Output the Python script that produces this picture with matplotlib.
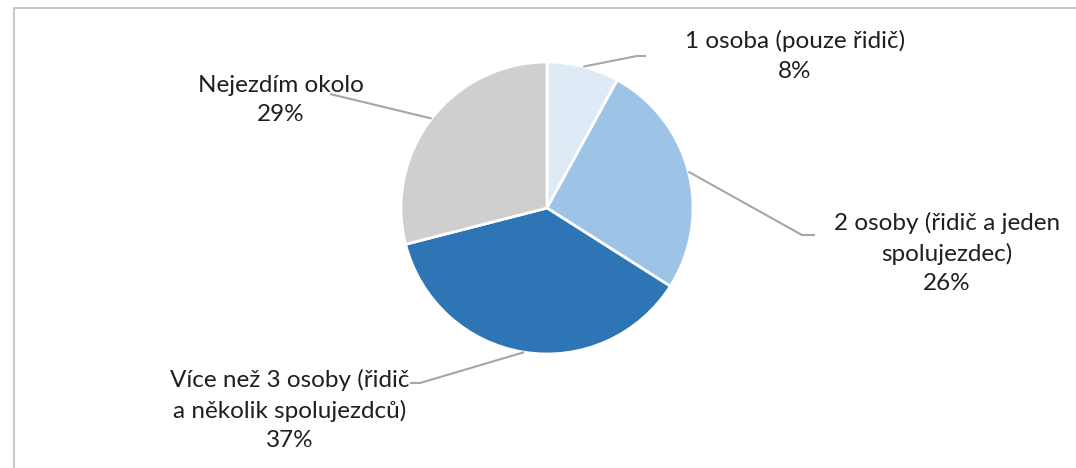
import numpy as np
import matplotlib
matplotlib.use("Agg")
import matplotlib.pyplot as plt
from matplotlib.patches import Rectangle

plt.rcParams['font.family'] = ['Lato', 'DejaVu Sans']

categories = [
    "1 osoba (pouze řidič)",
    "2 osoby (řidič a jeden\nspolujezdec)",
    "Více než 3 osoby (řidič\na několik spolujezdců)",
    "Nejezdím okolo",
]
shares = [8, 26, 37, 29]
colors = ["#DEEAF6", "#9DC3E6", "#2E75B6", "#D0CECE"]

W, H = 1076, 468
fig = plt.figure(figsize=(W / 100, H / 100), dpi=100)
ax = fig.add_axes([0, 0, 1, 1])

# chart frame
ax.add_patch(Rectangle((14, -20), W + 40, H - 8 + 20, fill=False,
                       edgecolor="#BFBFBF", linewidth=1.2))

cx, cy, r = 547, H - 208, 146
wedges, _ = ax.pie(shares, colors=colors, startangle=90, counterclock=False,
                   center=(cx, cy), radius=r, frame=True,
                   wedgeprops=dict(edgecolor="white", linewidth=2))
ax.set_xlim(0, W)
ax.set_ylim(0, H)
ax.set_aspect('equal')
ax.axis('off')

# leader elbow points and label anchors (pixel layout, y from top)
elbows = [((637, 56), (646, 56)),
          ((802, 235), (815, 235)),
          ((420, 383), (410, 383)),
          ((330, 94), (330, 94))]
label_pos = [(795, 56), (947, 253), (290, 410), (281, 100)]

cum = 0
for val, name, (e1, e2), (lx, ly) in zip(shares, categories, elbows, label_pos):
    mid = (cum + val / 2) / sum(shares) * 2 * np.pi
    cum += val
    sx = cx + r * np.sin(mid)
    sy = cy + r * np.cos(mid)
    ax.plot([sx, e1[0], e2[0]], [sy, H - e1[1], H - e2[1]],
            color="#A6A6A6", linewidth=1.5, solid_capstyle='butt')
    ax.text(lx, H - ly, f"{name}\n{val}%", ha='center', va='center',
            fontsize=17.5, color="#1F1F1F", linespacing=1.5)

fig.savefig("out.png", dpi=100, facecolor="white")
